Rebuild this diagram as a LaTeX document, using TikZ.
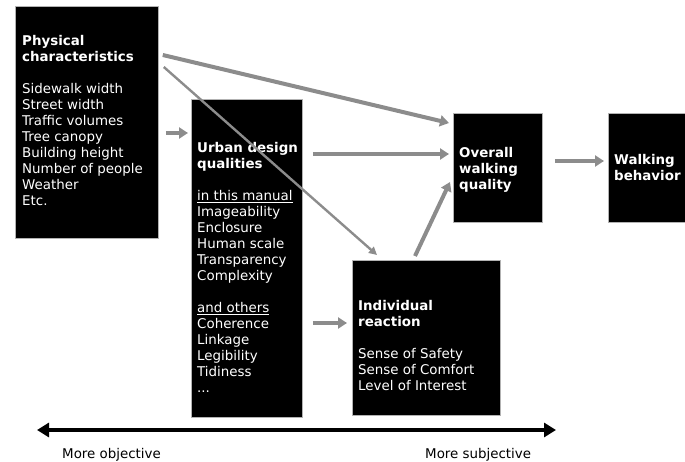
\documentclass[tikz,border=0pt]{standalone}
\usepackage{fontspec}
\setmainfont{DejaVu Sans}
\usetikzlibrary{calc,arrows.meta}

\tikzset{
  box/.style={fill=black, draw=black!30, line width=0.8pt, anchor=north west, inner sep=0pt},
  boxtext/.style={text=white, anchor=north west, inner sep=0pt, align=left, font=\fontsize{13.4}{16}\selectfont},
  flow/.style={line width=4pt, color=black!45, -{Triangle[length=9pt,width=11pt]}},
  thinflow/.style={line width=2.4pt, color=black!45, -{Triangle[length=8pt,width=8pt]}},
  axis/.style={line width=3.5pt, {Triangle[length=12pt,width=14pt]}-{Triangle[length=12pt,width=14pt]}},
  axislabel/.style={anchor=base west, inner sep=0pt, font=\fontsize{13.4}{16}\selectfont}
}

\begin{document}
\begin{tikzpicture}[x=1pt, y=-1pt]
			%%%%% START %%%%%
			\useasboundingbox (0,0) rectangle (685,462);
			
			\node[box, minimum width=143pt, minimum height=232pt] (phys) at (15,6) {};
			\node[box, minimum width=111pt, minimum height=318pt] (urban) at (191,99) {};
			\node[box, minimum width=148pt, minimum height=155pt] (indiv) at (352,260) {};
			\node[box, minimum width=89pt, minimum height=109pt] (overall) at (453,113) {};
			\node[box, minimum width=77pt, minimum height=109pt] (walk) at (608,113) {};
			
			\node[boxtext] (phystext) at (22,35) {\textbf{Physical}\\ \textbf{characteristics}\\[16pt]
				Sidewalk width\\ Street width\\ Traffic volumes\\ Tree canopy\\ Building height\\ Number of people\\ Weather\\ Etc.};
			\node[boxtext] (urbantext) at (197,142) {\textbf{Urban design}\\ \textbf{qualities}\\[16pt]
				\underline{in this manual}\\ Imageability\\ Enclosure\\ Human scale\\ Transparency\\ Complexity\\[16pt]
				\underline{and others}\\ Coherence\\ Linkage\\ Legibility\\ Tidiness\\ ...};
			\node[boxtext] (indivtext) at (358,300) {\textbf{Individual}\\ \textbf{reaction}\\[16pt]
				Sense of Safety\\ Sense of Comfort\\ Level of Interest};
			\node[boxtext] (overalltext) at (459,147) {\textbf{Overall}\\ \textbf{walking}\\ \textbf{quality}};
			\node[boxtext] (walktext) at (614,154) {\textbf{Walking}\\ \textbf{behavior}};
			
			% gray links
			\draw[flow] ($(phys.north east)+(4,49)$) -- ($(overall.north west)+(-4,10)$);
			\draw[thinflow] ($(phys.north east)+(5,61)$) -- ($(indiv.north west)+(25,-5)$);
			\draw[flow] ($(phys.north east)+(7,127)$) -- ($(urban.north west)+(-3,34)$);
			\draw[flow] ($(urban.north east)+(10,55)$) -- ($(overall.north west)+(-4,41)$);
			\draw[flow] ($(urban.north east)+(10,224)$) -- ($(indiv.north west)+(-5,63)$);
			\draw[flow] ($(indiv.north west)+(63,-4)$) -- ($(overall.north west)+(-3,69)$);
			\draw[flow] ($(overall.north east)+(12,48)$) -- ($(walk.north west)+(-4,48)$);
			
			% scale
			\coordinate (obj) at (37,430);
			\coordinate (subj) at (556,430);
			\draw[axis] (obj) -- (subj);
			\node[axislabel] (objlabel) at (62,458) {More objective};
			\node[axislabel] (subjlabel) at (425,458) {More subjective};
			
			%%%%% END %%%%%
\end{tikzpicture}
\end{document}
